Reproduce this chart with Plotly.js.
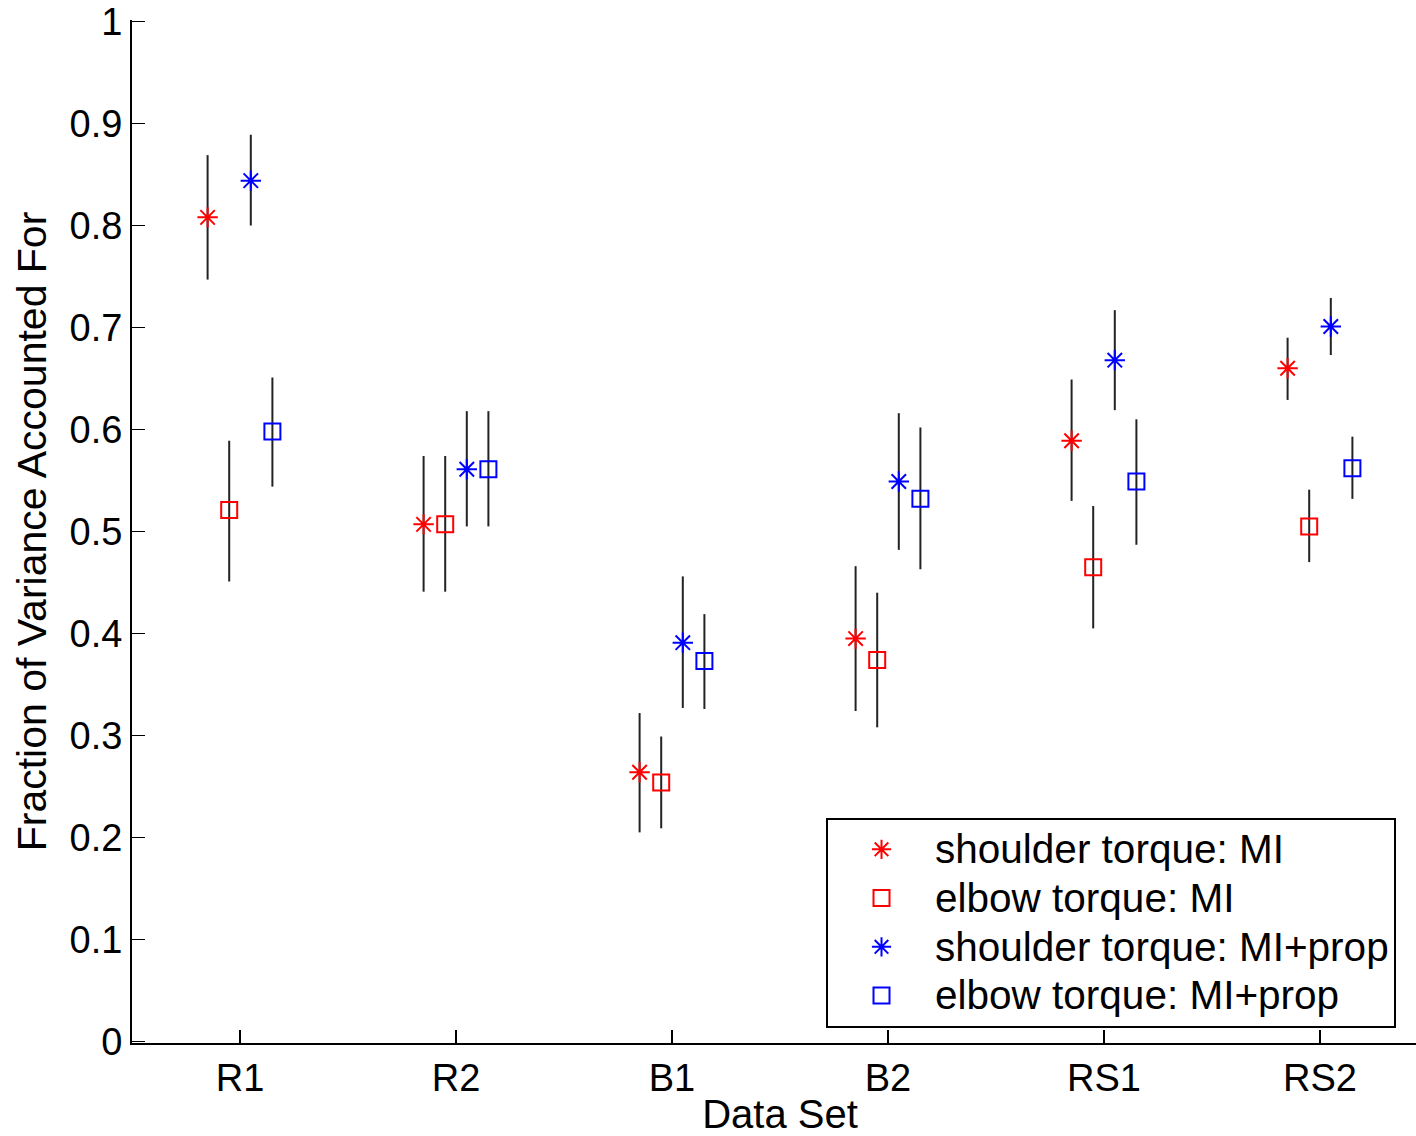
<!DOCTYPE html>
<html>
<head>
<meta charset="utf-8">
<script src="https://cdn.plot.ly/plotly-3.0.1.min.js"></script>
<style>
html, body { margin: 0; padding: 0; overflow: hidden; background: #fff; }
#chart { width: 1428px; height: 1136px; }
</style>
</head>
<body>
<div id="chart"></div>
<script>
// Data sets (categories) and their positions on the x axis
const categories = ["R1", "R2", "B1", "B2", "RS1", "RS2"];
const positions = [1, 2, 3, 4, 5, 6];

// Y tick values and labels
const yTickVals = [0, 0.1, 0.2, 0.3, 0.4, 0.5, 0.6, 0.7, 0.8, 0.9, 1];
const yTickText = ["0", "0.1", "0.2", "0.3", "0.4", "0.5", "0.6", "0.7", "0.8", "0.9", "1"];

// Series names
const seriesNames = [
  "shoulder torque: MI",
  "elbow torque: MI",
  "shoulder torque: MI+prop",
  "elbow torque: MI+prop"
];

// Mean fraction of variance accounted for
const shoulderMI      = [0.808, 0.507, 0.264, 0.395, 0.589, 0.660];
const elbowMI         = [0.521, 0.507, 0.254, 0.374, 0.465, 0.505];
const shoulderMIprop  = [0.844, 0.561, 0.391, 0.549, 0.668, 0.701];
const elbowMIprop     = [0.598, 0.561, 0.373, 0.532, 0.549, 0.562];

// Upper ends of the error bars
const shoulderMI_hi     = [0.869, 0.574, 0.322, 0.466, 0.649, 0.690];
const elbowMI_hi        = [0.589, 0.574, 0.299, 0.440, 0.525, 0.541];
const shoulderMIprop_hi = [0.889, 0.618, 0.456, 0.616, 0.717, 0.729];
const elbowMIprop_hi    = [0.651, 0.618, 0.419, 0.602, 0.610, 0.593];

// Lower ends of the error bars
const shoulderMI_lo     = [0.747, 0.441, 0.205, 0.324, 0.530, 0.629];
const elbowMI_lo        = [0.451, 0.441, 0.209, 0.308, 0.405, 0.470];
const shoulderMIprop_lo = [0.800, 0.505, 0.327, 0.482, 0.619, 0.673];
const elbowMIprop_lo    = [0.544, 0.505, 0.326, 0.463, 0.487, 0.532];

// Horizontal offsets of the four series within each data set
const offsets = [-0.15, -0.05, 0.05, 0.15];

const FONT = "Liberation Sans, Arial, Helvetica, sans-serif";

function mkTrace(idx, vals, hi, lo, color, symbol) {
  return {
    type: "scatter",
    mode: "markers",
    name: '<span style="font-size:40.5px">' + seriesNames[idx] + '</span>',
    x: positions.map(p => p + offsets[idx]),
    y: vals,
    marker: {
      symbol: symbol,
      size: symbol.indexOf("asterisk") === 0 ? 17 : 16,
      color: color,
      line: { color: color, width: 2 }
    },
    error_y: {
      type: "data",
      symmetric: false,
      array: hi.map((h, i) => h - vals[i]),
      arrayminus: lo.map((l, i) => vals[i] - l),
      color: "#222222",
      thickness: 2,
      width: 0
    },
    hoverinfo: "x+y"
  };
}

const traces = [
  mkTrace(0, shoulderMI, shoulderMI_hi, shoulderMI_lo, "#ff0000", "asterisk-open"),
  mkTrace(1, elbowMI, elbowMI_hi, elbowMI_lo, "#ff0000", "square-open"),
  mkTrace(2, shoulderMIprop, shoulderMIprop_hi, shoulderMIprop_lo, "#0000ff", "asterisk-open"),
  mkTrace(3, elbowMIprop, elbowMIprop_hi, elbowMIprop_lo, "#0000ff", "square-open")
];

const layout = {
  width: 1428,
  height: 1136,
  margin: { l: 132, r: 0, t: 20, b: 93 },
  paper_bgcolor: "#ffffff",
  plot_bgcolor: "#ffffff",
  font: { family: FONT, size: 38, color: "#000000" },
  showlegend: true,
  xaxis: {
    range: [0.5, 6.5],
    tickmode: "array",
    tickvals: positions,
    ticktext: categories,
    ticks: "inside",
    ticklen: 13,
    tickwidth: 1.5,
    tickcolor: "#000000",
    showline: true,
    linecolor: "#000000",
    linewidth: 2,
    showgrid: false,
    zeroline: false,
    mirror: false,
    tickfont: { family: FONT, size: 38, color: "#000000" },
    title: { text: "Data Set", font: { family: FONT, size: 40, color: "#000000" }, standoff: 10 },
    automargin: false
  },
  yaxis: {
    range: [-0.0015, 1.0015],
    tickmode: "array",
    tickvals: yTickVals,
    ticktext: yTickText,
    ticks: "inside",
    ticklen: 13,
    tickwidth: 1.5,
    tickcolor: "#000000",
    showline: true,
    linecolor: "#000000",
    linewidth: 2,
    showgrid: false,
    zeroline: false,
    mirror: false,
    tickfont: { family: FONT, size: 38, color: "#000000" },
    title: { text: "Fraction of Variance Accounted For", font: { family: FONT, size: 41, color: "#000000" }, standoff: 10 },
    automargin: false
  },
  legend: {
    x: 0.5355,
    y: 0.22,
    xanchor: "left",
    yanchor: "top",
    bgcolor: "#ffffff",
    bordercolor: "#000000",
    borderwidth: 2,
    itemwidth: 97,
    font: { family: FONT, size: 35.2, color: "#000000" },
    tracegroupgap: 0
  }
};

Plotly.newPlot("chart", traces, layout, { displayModeBar: false, staticPlot: true });
</script>
</body>
</html>
